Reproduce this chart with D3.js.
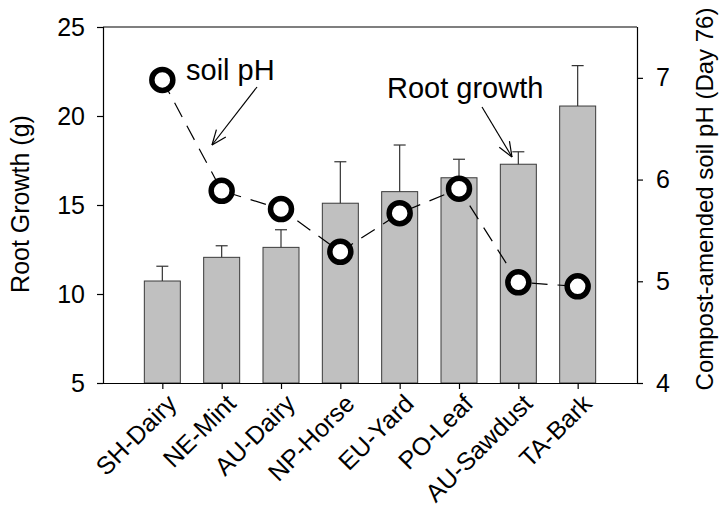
<!DOCTYPE html>
<html>
<head>
<meta charset="utf-8">
<script src="https://cdn.jsdelivr.net/npm/d3@7"></script>
<style>
  html, body { margin: 0; padding: 0; background: #fff; }
  svg { display: block; font-family: "Liberation Sans", Arial, sans-serif; }
</style>
</head>
<body>
<svg id="chart" width="721" height="510"></svg>
<script>
// Compost treatments
const categories = ["SH-Dairy", "NE-Mint", "AU-Dairy", "NP-Horse", "EU-Yard", "PO-Leaf", "AU-Sawdust", "TA-Bark"];
// Root growth (g), mean and upper error
const rootGrowth = [10.73, 12.06, 12.62, 15.10, 15.75, 16.53, 17.29, 20.56];
const rootError  = [0.83, 0.65, 0.99, 2.33, 2.62, 1.04, 0.70, 2.27];
// Compost-amended soil pH at day 76
const soilPH = [6.98, 5.89, 5.71, 5.29, 5.67, 5.91, 4.99, 4.95];
// Axis ticks
const leftTicks = [5, 10, 15, 20, 25];
const rightTicks = [4, 5, 6, 7];

const svg = d3.select("#chart");
const plotLeft = 103, plotRight = 637, plotTop = 27, plotBottom = 383;

const x = d3.scaleLinear().domain([0, categories.length + 1]).range([plotLeft, plotRight]);
const yRoot = d3.scaleLinear().domain([5, 25]).range([plotBottom, plotTop]);
const yPH = d3.scaleLinear().domain([4, 7.5]).range([plotBottom, plotTop]);

const barW = 36;

// Bars
svg.append("g").selectAll("rect")
  .data(rootGrowth)
  .join("rect")
  .attr("x", (d, i) => x(i + 1) - barW / 2)
  .attr("y", d => yRoot(d))
  .attr("width", barW)
  .attr("height", d => yRoot(5) - yRoot(d))
  .attr("fill", "#c0c0c0")
  .attr("stroke", "#3a3a3a")
  .attr("stroke-width", 1);

// Upper error bars
const err = svg.append("g").attr("stroke", "#333").attr("stroke-width", 1.2);
rootGrowth.forEach((v, i) => {
  const cx = x(i + 1);
  err.append("line").attr("x1", cx).attr("x2", cx)
    .attr("y1", yRoot(v)).attr("y2", yRoot(v + rootError[i]));
  err.append("line").attr("x1", cx - 6).attr("x2", cx + 6)
    .attr("y1", yRoot(v + rootError[i])).attr("y2", yRoot(v + rootError[i]));
});

// Frame: top border
svg.append("line").attr("x1", plotLeft).attr("x2", plotRight).attr("y1", plotTop).attr("y2", plotTop)
  .attr("stroke", "#000").attr("stroke-width", 1.2);

// Left axis
const gl = svg.append("g").attr("transform", `translate(${plotLeft},0)`)
  .call(d3.axisLeft(yRoot).tickValues(leftTicks).tickSize(6).tickSizeOuter(0).tickPadding(12));
// Right axis
const gr = svg.append("g").attr("transform", `translate(${plotRight},0)`)
  .call(d3.axisRight(yPH).tickValues(rightTicks).tickFormat(d3.format("d"))
    .tickSize(6).tickSizeOuter(0).tickPadding(13));
// Bottom axis
const gb = svg.append("g").attr("transform", `translate(0,${plotBottom})`)
  .call(d3.axisBottom(x).tickValues(d3.range(1, categories.length + 1))
    .tickFormat(d => categories[d - 1]).tickSize(6).tickSizeOuter(0).tickPadding(6));

[gl, gr, gb].forEach(g => {
  g.selectAll("path, line").attr("stroke", "#000").attr("stroke-width", 1.2);
  g.selectAll("text").attr("font-family", "Liberation Sans, Arial, sans-serif")
    .attr("font-size", 25).attr("fill", "#000");
});
gb.select(".domain").attr("d", `M${plotLeft - 6},0.5H${plotRight + 6}`);
gl.select(".domain").attr("d", `M0.5,${plotBottom}V${plotTop}`);
gr.select(".domain").attr("d", `M0.5,${plotBottom}V${plotTop}`);

gb.selectAll(".tick text")
  .attr("font-size", 25)
  .attr("text-anchor", "end")
  .attr("dy", "0.35em")
  .attr("transform", "translate(9,16) rotate(-45)")
  .attr("y", 0).attr("x", 0);

// Axis titles
svg.append("text")
  .attr("transform", "translate(29,204) rotate(-90)")
  .attr("text-anchor", "middle")
  .attr("font-size", 25)
  .text("Root Growth (g)");
svg.append("text")
  .attr("transform", "translate(713,199) rotate(-90)")
  .attr("text-anchor", "middle")
  .attr("font-size", 24)
  .text("Compost-amended soil pH (Day 76)");

// Soil pH line
const line = d3.line().x((d, i) => x(i + 1)).y(d => yPH(d));
svg.append("path")
  .datum(soilPH)
  .attr("d", line)
  .attr("fill", "none")
  .attr("stroke", "#000")
  .attr("stroke-width", 1.2)
  .attr("stroke-dasharray", "16,10");

svg.append("g").selectAll("circle")
  .data(soilPH)
  .join("circle")
  .attr("cx", (d, i) => x(i + 1))
  .attr("cy", d => yPH(d))
  .attr("r", 10.5)
  .attr("fill", "#fff")
  .attr("stroke", "#000")
  .attr("stroke-width", 5.5);

// Annotations with open arrowheads
function arrow(x1, y1, x2, y2) {
  const g = svg.append("g").attr("stroke", "#000").attr("stroke-width", 1.2).attr("fill", "none");
  g.append("line").attr("x1", x1).attr("y1", y1).attr("x2", x2).attr("y2", y2);
  const a = Math.atan2(y2 - y1, x2 - x1);
  const len = 16, spread = 0.38;
  [a + Math.PI - spread, a + Math.PI + spread].forEach(t => {
    g.append("line").attr("x1", x2).attr("y1", y2)
      .attr("x2", x2 + len * Math.cos(t)).attr("y2", y2 + len * Math.sin(t));
  });
}

svg.append("text").attr("x", 186).attr("y", 80).attr("font-size", 29).text("soil pH");
arrow(257, 87, 212, 145);

svg.append("text").attr("x", 387).attr("y", 98).attr("font-size", 29).text("Root growth");
arrow(482, 107, 512, 157);
</script>
</body>
</html>
